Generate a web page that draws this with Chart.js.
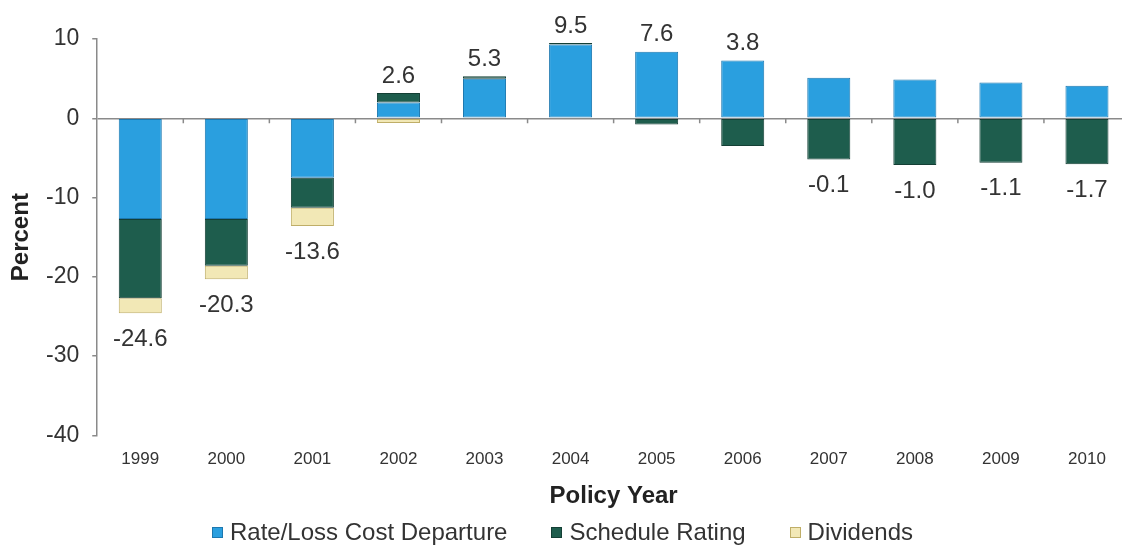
<!DOCTYPE html>
<html>
<head>
<meta charset="utf-8">
<script src="https://cdn.jsdelivr.net/npm/chart.js@4.4.1/dist/chart.umd.min.js"></script>
<style>
  html, body { margin: 0; padding: 0; background: #fff; overflow: hidden; }
  #wrap { position: relative; width: 1134px; height: 548px; }
  #legend {
    position: absolute; left: 212px; top: 518px;
    display: flex; font: 24px "Liberation Sans", Arial, sans-serif; color: #333;
    line-height: 28px;
  }
  #legend .item { display: flex; align-items: center; margin-right: 44px; }
  #legend .box { width: 9px; height: 9px; margin-right: 7px; border: 1px solid; }
</style>
</head>
<body>
<div id="wrap">
  <canvas id="chart" width="1134" height="548"></canvas>
  <div id="legend"></div>
</div>
<script>
// Policy years on the x axis
const years = ["1999", "2000", "2001", "2002", "2003", "2004", "2005", "2006", "2007", "2008", "2009", "2010"];

// Stacked components (percent)
const rateLossDeparture = [-12.7, -12.7, -7.5, 2.0, 5.0, 9.3, 8.4, 7.3, 5.1, 4.9, 4.5, 4.1];
const scheduleRating = [-10.0, -5.9, -3.8, 1.2, 0.3, 0.2, -0.8, -3.5, -5.2, -5.9, -5.6, -5.8];
const dividends = [-1.9, -1.7, -2.3, -0.6, 0.0, 0.0, 0.0, 0.0, 0.0, 0.0, 0.0, 0.0];

// Net values printed above / below each bar
const netLabels = [-24.6, -20.3, -13.6, 2.6, 5.3, 9.5, 7.6, 3.8, -0.1, -1.0, -1.1, -1.7];

// Y axis range
const yMin = -40;
const yMax = 10;
const yStep = 10;

const textColor = "#333";
const axisColor = "#8a8a8a";
const baseFont = '"Liberation Sans", Arial, sans-serif';

// Draws the net value labels and the small ticks on the zero line
const netLabelPlugin = {
  id: "netLabels",
  afterDatasetsDraw(chart) {
    const ctx = chart.ctx;
    const xScale = chart.scales.x;
    const yScale = chart.scales.y;
    const sets = chart.data.datasets;

    // little tick marks between categories on the zero line
    const zeroY = yScale.getPixelForValue(0);
    ctx.save();
    ctx.strokeStyle = axisColor;
    ctx.lineWidth = 1.5;
    for (let i = 0; i < years.length; i++) {
      const x = i < years.length - 1
        ? (xScale.getPixelForValue(i) + xScale.getPixelForValue(i + 1)) / 2
        : xScale.getPixelForValue(i) + (xScale.getPixelForValue(i) - xScale.getPixelForValue(i - 1)) / 2;
      ctx.beginPath();
      ctx.moveTo(x, zeroY);
      ctx.lineTo(x, zeroY + 5);
      ctx.stroke();
    }

    ctx.fillStyle = textColor;
    ctx.font = "24px " + baseFont;
    ctx.textAlign = "center";
    ctx.textBaseline = "middle";
    netLabels.forEach((val, i) => {
      let pos = 0;
      let neg = 0;
      sets.forEach((ds) => {
        const v = ds.data[i];
        if (v > 0) pos += v;
        else neg += v;
      });
      const x = xScale.getPixelForValue(i);
      let y;
      if (val >= 0) {
        y = yScale.getPixelForValue(pos) - 17;
      } else {
        y = yScale.getPixelForValue(neg) + 26;
      }
      ctx.fillText(val.toFixed(1), x, y);
    });
    ctx.restore();
  },
};

const chart = new Chart(document.getElementById("chart"), {
  type: "bar",
  data: {
    labels: years,
    datasets: [
      {
        label: "Rate/Loss Cost Departure",
        data: rateLossDeparture,
        backgroundColor: "#2a9fdf",
        borderColor: "#1c78b0",
        borderWidth: 1,
        borderSkipped: false,
      },
      {
        label: "Schedule Rating",
        data: scheduleRating,
        backgroundColor: "#1e5d4d",
        borderColor: "#143f35",
        borderWidth: 1,
        borderSkipped: false,
      },
      {
        label: "Dividends",
        data: dividends,
        backgroundColor: "#f2e8b6",
        borderColor: "#bfae68",
        borderWidth: 1,
        borderSkipped: false,
      },
    ],
  },
  options: {
    responsive: false,
    animation: false,
    barPercentage: 0.5,
    categoryPercentage: 1.0,
    layout: { padding: { top: 39, left: 9, right: 4, bottom: 40 } },
    plugins: {
      legend: { display: false },
      tooltip: { enabled: false },
    },
    scales: {
      x: {
        stacked: true,
        grid: { display: false, drawTicks: false },
        border: { display: false },
        ticks: {
          color: textColor,
          padding: 15,
          font: { family: baseFont, size: 17, lineHeight: 1.1 },
        },
        title: {
          display: true,
          text: "Policy Year",
          color: "#222",
          padding: 0,
          font: { family: baseFont, size: 24, weight: "bold", lineHeight: 1 },
        },
      },
      y: {
        stacked: true,
        min: yMin,
        max: yMax,
        ticks: {
          stepSize: yStep,
          color: textColor,
          padding: 13,
          font: { family: baseFont, size: 23 },
        },
        grid: {
          drawOnChartArea: true,
          drawTicks: true,
          tickLength: 5,
          lineWidth: 1.5,
          color: (c) => (c.tick && c.tick.value === 0 ? axisColor : "rgba(0,0,0,0)"),
          tickColor: axisColor,
        },
        border: { display: true, color: axisColor, width: 1.5 },
        title: {
          display: true,
          text: "Percent",
          color: "#222",
          padding: 0,
          font: { family: baseFont, size: 24, weight: "bold", lineHeight: 1 },
        },
      },
    },
  },
  plugins: [netLabelPlugin],
});

// HTML legend built from the datasets
const legendEl = document.getElementById("legend");
chart.data.datasets.forEach((ds) => {
  const item = document.createElement("div");
  item.className = "item";
  const box = document.createElement("span");
  box.className = "box";
  box.style.background = ds.backgroundColor;
  box.style.borderColor = ds.borderColor;
  const txt = document.createElement("span");
  txt.textContent = ds.label;
  item.appendChild(box);
  item.appendChild(txt);
  legendEl.appendChild(item);
});
</script>
</body>
</html>
